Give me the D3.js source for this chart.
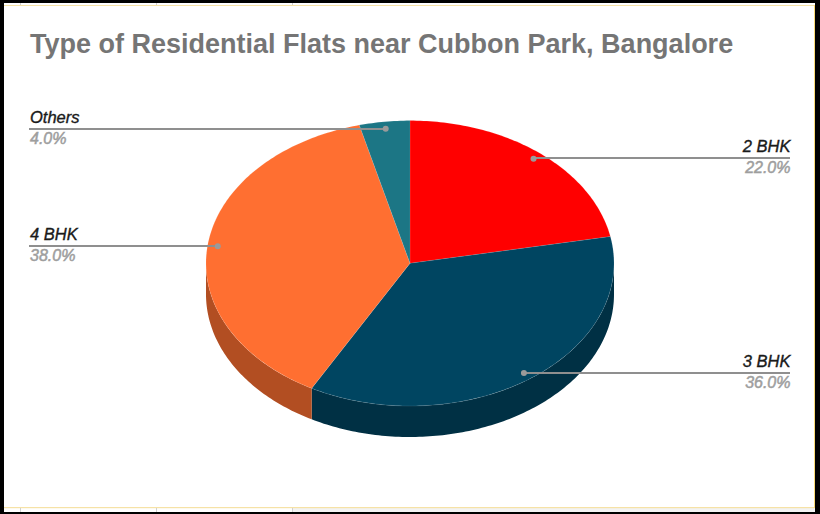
<!DOCTYPE html>
<html>
<head>
<meta charset="utf-8">
<script src="https://cdn.jsdelivr.net/npm/d3@7"></script>
<style>
  html, body { margin: 0; padding: 0; background: #000; overflow: hidden; }
  text { font-family: "Liberation Sans", Arial, sans-serif; }
</style>
</head>
<body>
<div id="viz"></div>
<script>
var width = 820;
var height = 514;

// data
var categories = ['2 BHK', '3 BHK', '4 BHK', 'Others'];
var values = [22, 36, 38, 4];
var colors = ['#ff0000', '#004561', '#ff6f31', '#1c7685'];
var sideColors = ['#b20000', '#003044', '#b24e22', '#14525d'];
var labelSide = ['right', 'right', 'left', 'left'];
var labelLineY = [158, 373, 246, 129];
var sheetTicks = [20, 156, 292];

var svg = d3.select('#viz')
    .append('svg')
    .attr('width', width)
    .attr('height', height)
    .style('display', 'block');

// black screenshot frame and the bit of spreadsheet around the chart
svg.append('rect').attr('width', width).attr('height', height).attr('fill', '#000');
svg.append('rect').attr('x', 4).attr('y', 3).attr('width', 811).attr('height', 509).attr('fill', '#fff');
svg.append('rect').attr('x', 292).attr('y', 508).attr('width', 523).attr('height', 4).attr('fill', '#f3f3f3');
svg.append('rect').attr('x', 4).attr('y', 5).attr('width', 811).attr('height', 1).attr('fill', '#f6e2a6');
svg.append('rect').attr('x', 4).attr('y', 507).attr('width', 811).attr('height', 1.2).attr('fill', '#f6e2a6');
svg.append('rect').attr('x', 814).attr('y', 5).attr('width', 1).attr('height', 503).attr('fill', '#f9d976');
sheetTicks.forEach(function(x) {
    svg.append('rect').attr('x', x).attr('y', 3).attr('width', 1).attr('height', 2).attr('fill', '#d0d0d0');
    svg.append('rect').attr('x', x).attr('y', 508).attr('width', 1).attr('height', 4).attr('fill', '#d0d0d0');
});

// unit circle -> flattened ellipse
var depth = 31;
var xScale = d3.scaleLinear().domain([-1, 1]).range([206, 614]);
var yScale = d3.scaleLinear().domain([-1, 1]).range([120.6, 406]);

var pie = d3.pie().sort(null).value(function(d) { return d; });
var slices = pie(values);

function rim(a0, a1) {
    var n = Math.max(2, Math.ceil((a1 - a0) * 60));
    return d3.range(n + 1).map(function(i) { return a0 + (a1 - a0) * i / n; });
}
function px(a, r) { return xScale(r * Math.sin(a)); }
function py(a, r) { return yScale(-r * Math.cos(a)); }

var line = d3.line();

// side wall, only the front half of the rim shows
var g = svg.append('g');
slices.forEach(function(s, i) {
    var a0 = Math.max(s.startAngle, Math.PI / 2);
    var a1 = Math.min(s.endAngle, Math.PI * 1.5);
    if (a1 <= a0) return;
    var top = rim(a0, a1).map(function(a) { return [px(a, 1), py(a, 1)]; });
    var bottom = rim(a0, a1).reverse().map(function(a) { return [px(a, 1), py(a, 1) + depth]; });
    g.append('path')
        .attr('d', line(top.concat(bottom)) + 'Z')
        .attr('fill', sideColors[i]);
});

// top face
g.selectAll('.slice')
    .data(slices)
    .enter()
    .append('path')
    .attr('class', 'slice')
    .attr('d', function(s) {
        var pts = [[xScale(0), yScale(0)]].concat(
            rim(s.startAngle, s.endAngle).map(function(a) { return [px(a, 1), py(a, 1)]; })
        );
        return line(pts) + 'Z';
    })
    .attr('fill', function(s, i) { return colors[i]; })
    .attr('stroke', '#fff')
    .attr('stroke-opacity', 0.2)
    .attr('stroke-width', 0.5);

// leader lines and labels
slices.forEach(function(s, i) {
    var mid = (s.startAngle + s.endAngle) / 2;
    var dotX = px(mid, 0.95);
    var dotY = py(mid, 0.95);
    var right = labelSide[i] === 'right';
    var textX = right ? 790.5 : 30;
    var anchor = right ? 'end' : 'start';
    var y = labelLineY[i];

    svg.append('line')
        .attr('x1', dotX).attr('y1', y)
        .attr('x2', right ? 790 : 29).attr('y2', y)
        .attr('stroke', '#8f8f8f')
        .attr('stroke-width', 2);
    svg.append('circle')
        .attr('cx', dotX).attr('cy', dotY).attr('r', 3)
        .attr('fill', '#9a9a9a');

    svg.append('text')
        .attr('x', textX).attr('y', y - 6)
        .attr('text-anchor', anchor)
        .attr('font-size', 16.5)
        .attr('font-style', 'italic')
        .attr('fill', '#1a1a1a')
        .attr('stroke', '#1a1a1a')
        .attr('stroke-width', 0.35)
        .text(categories[i]);
    svg.append('text')
        .attr('x', textX).attr('y', y + 15)
        .attr('text-anchor', anchor)
        .attr('font-size', 16)
        .attr('font-style', 'italic')
        .attr('fill', '#9e9e9e')
        .attr('stroke', '#9e9e9e')
        .attr('stroke-width', 0.5)
        .text(d3.format('.1f')(values[i]) + '%');
});

// title
svg.append('text')
    .attr('x', 30)
    .attr('y', 53)
    .attr('font-size', 27)
    .attr('font-weight', 'bold')
    .attr('fill', '#757575')
    .text('Type of Residential Flats near Cubbon Park, Bangalore');
</script>
</body>
</html>
